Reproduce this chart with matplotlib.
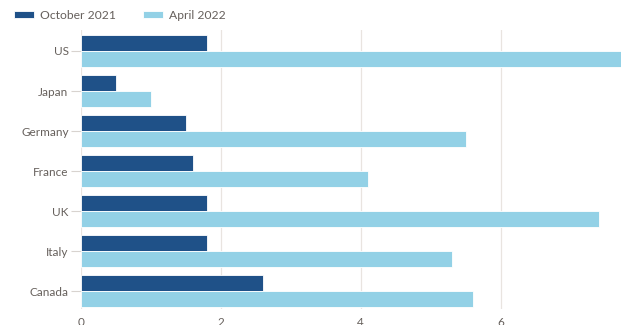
import matplotlib
matplotlib.use("Agg")
import matplotlib.pyplot as plt
import numpy as np

countries = ["US", "Japan", "Germany", "France", "UK", "Italy", "Canada"]
oct_2021 = [1.8, 0.5, 1.5, 1.6, 1.8, 1.8, 2.6]
apr_2022 = [8.3, 1.0, 5.5, 4.1, 7.4, 5.3, 5.6]
x_ticks = [0, 2, 4, 6]

dark = "#1f5188"
light = "#93d1e6"
text_col = "#66605c"

plt.rcParams["font.family"] = ["Lato", "DejaVu Sans"]

fig = plt.figure(figsize=(6.27, 3.25), dpi=100)
ax = fig.add_axes([0.1292, 0.0492, 0.8612, 0.8585])

y = np.arange(len(countries))
h = 0.4
ax.barh(y - h / 2, oct_2021, height=h, color=dark, edgecolor="white", linewidth=0.6,
        label="October 2021", zorder=3)
ax.barh(y + h / 2, apr_2022, height=h, color=light, edgecolor="white", linewidth=0.6,
        label="April 2022", zorder=3)

ax.set_xlim(0, 7.72)
ax.set_ylim(6.45, -0.525)
ax.set_yticks(y)
ax.set_yticklabels(countries)
ax.set_xticks(x_ticks)

for s in ax.spines.values():
    s.set_visible(False)
ax.grid(axis="x", color="#e9e4e0", linewidth=0.9, zorder=0)
ax.tick_params(axis="y", length=7, width=0.8, color="#d8d3cf", labelcolor=text_col,
               labelsize=8.5, pad=2)
ax.tick_params(axis="x", length=0, labelcolor=text_col, labelsize=8.5, pad=6)

fig.legend(loc="center left", bbox_to_anchor=(0.022, 0.953), ncol=2, frameon=False,
           fontsize=8.7, labelcolor=text_col, handlelength=1.7, handleheight=0.6,
           columnspacing=2.2, handletextpad=0.5, borderaxespad=0, borderpad=0)

fig.savefig("out.png", dpi=100)
